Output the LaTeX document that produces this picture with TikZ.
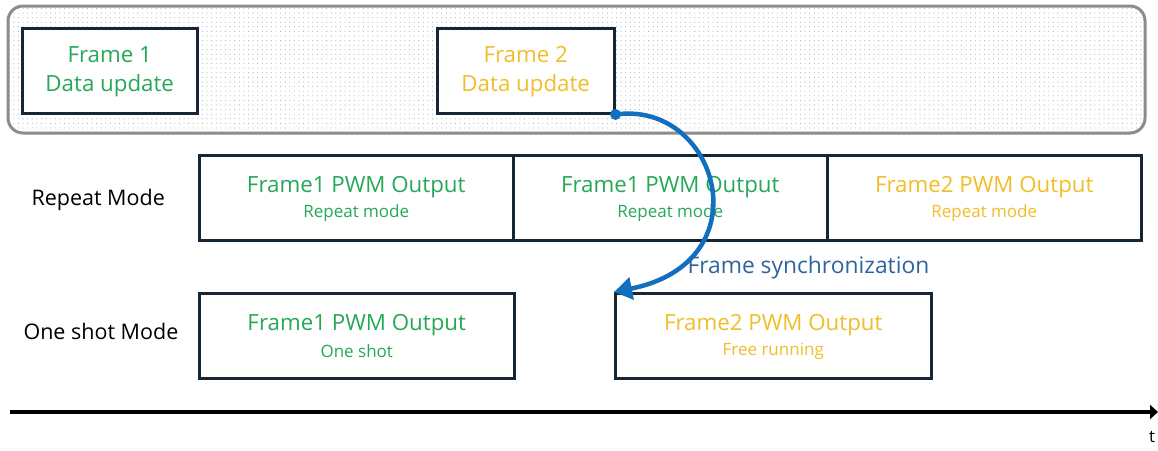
\documentclass[tikz,border=0pt]{standalone}
\usepackage{fontspec}
\setmainfont{Open Sans}
\usetikzlibrary{arrows.meta,patterns.meta}
\definecolor{fgreen}{RGB}{38,168,88}
\definecolor{fyellow}{RGB}{240,190,40}
\definecolor{fblue}{RGB}{18,110,190}
\definecolor{tblue}{RGB}{45,100,160}
\definecolor{border}{RGB}{22,38,52}
\begin{document}
\begin{tikzpicture}[x=1pt,y=-1pt,
  box/.style={draw=border,line width=2.5pt,fill=white,rectangle,inner sep=0pt,anchor=north west},
  rowlabel/.style={font=\fontsize{21.5}{25}\selectfont,text=black,anchor=west},
  big/.style={font=\fontsize{22.3}{29}\selectfont},
  small/.style={font=\fontsize{17}{20}\selectfont}]
\useasboundingbox (0,0) rectangle (1158,450);
% background panel
\draw[line width=3pt,draw=gray!90,rounded corners=15pt,
  pattern={Dots[distance=4.6pt,radius=0.55pt]},pattern color=gray!65]
  (8,6) rectangle (1145,133);
% frame update boxes
\node[box,minimum width=175pt,minimum height=85pt] (f1) at (21,27) {};
\node[big,text=fgreen,align=center] at ([yshift=-1pt]f1.center) {Frame 1\\Data update};
\node[box,minimum width=177pt,minimum height=85pt] (f2) at (436,27) {};
\node[big,text=fyellow,align=center] at ([yshift=-1pt]f2.center) {Frame 2\\Data update};
% repeat mode row
\node[rowlabel] (rl) at (28,200) {Repeat Mode};
\node[box,minimum width=314pt,minimum height=85pt] (r1) at (198,154) {};
\node[box,minimum width=314pt,minimum height=85pt] (r2) at (512,154) {};
\node[box,minimum width=314pt,minimum height=85pt] (r3) at (826,154) {};
\node[big,text=fgreen] at ([yshift=10.5pt]r1.center) {Frame1 PWM Output};
\node[small,text=fgreen] at ([yshift=-15.5pt]r1.center) {Repeat mode};
\node[big,text=fgreen] at ([yshift=10.5pt]r2.center) {Frame1 PWM Output};
\node[small,text=fgreen] at ([yshift=-15.5pt]r2.center) {Repeat mode};
\node[big,text=fyellow] at ([yshift=10.5pt]r3.center) {Frame2 PWM Output};
\node[small,text=fyellow] at ([yshift=-15.5pt]r3.center) {Repeat mode};
% one shot row
\node[rowlabel] (ol) at (20,331) {One shot Mode};
\node[box,minimum width=315pt,minimum height=85pt] (o1) at (198,292) {};
\node[box,minimum width=316pt,minimum height=85pt] (o2) at (614,292) {};
\node[big,text=fgreen] at ([yshift=10.5pt]o1.center) {Frame1 PWM Output};
\node[small,text=fgreen] at ([yshift=-15.5pt]o1.center) {One shot};
\node[big,text=fyellow] at ([yshift=10.5pt]o2.center) {Frame2 PWM Output};
\node[small,text=fyellow] at ([yshift=-15.5pt]o2.center) {Free running};
% sync label
\node[font=\fontsize{22.8}{27}\selectfont,text=tblue,anchor=west] (sync) at (684,268) {Frame synchronization};
% sync arrow
\fill[fblue] (f2.south east) circle (5.5pt);
\draw[fblue,line width=4.5pt,-{Triangle[length=18pt,width=22pt]}]
  (f2.south east) .. controls (718,100) and (765,262) .. (o2.north west);
% time axis
\coordinate (t0) at (10,412);
\coordinate (t1) at (1158,412);
\draw[line width=4pt,-{Triangle[length=8pt,width=14pt]}] (t0) -- (t1);
\node[font=\fontsize{17}{20}\selectfont,anchor=north] (tl) at (1152,428) {t};
\end{tikzpicture}
\end{document}
